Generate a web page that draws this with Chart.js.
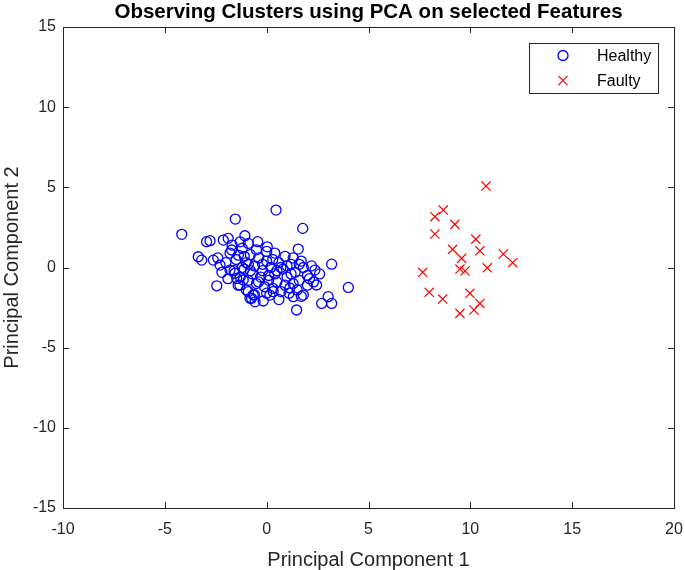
<!DOCTYPE html>
<html>
<head>
<meta charset="utf-8">
<script src="https://cdn.jsdelivr.net/npm/chart.js@4.4.0/dist/chart.umd.min.js"></script>
<style>
  body { margin: 0; background: #fff; }
  #wrap { width: 685px; height: 570px; }
</style>
</head>
<body>
<div id="wrap"><canvas id="pcaChart" width="685" height="570"></canvas></div>
<script>
let healthyX = [-4.17, 0.46, -1.54, 1.77, -2.95, -2.78, -2.13, -1.89, -1.07, -0.44, 0.03, 1.55, -3.36, -3.19, -2.62, -2.29, -2.45, 3.19, 4.01, 2.37, 2.45, 1.47, 3.02, 2.70, 3.19, 1.80, -0.17, -0.74,
  -1.80, -1.56, -1.47, -1.31, -1.15, -0.90, -0.82, -1.72, -1.39, 1.14, 1.31, 0.32, 0.16, -0.66, -0.57,
  -1.8, -1.5, -1.2, -1.0, -0.8, -0.6, -0.4, -0.2, 0.0, 0.2, 0.4, 0.6, 0.8, 1.0, 1.2, 1.4, 1.6, 1.8, 2.0,
  -1.6, -1.3, -1.1, -0.9, -0.7, -0.5, -0.3, -0.1, 0.1, 0.3, 0.5, 0.7, 0.9, 1.1, 1.3, 1.5,
  -2.0, -2.2, -1.9, -1.4, -1.0, -0.6, 0.0, 0.6, -1.7, -1.3, -0.9, -0.5, 0.0, 0.4, 0.9, 1.3, 1.7, 2.2, 2.6, 2.0,
  -2.4, -0.2, 0.3, -0.8, 1.0, 2.3, 1.7, -1.1, 0.5,
  -0.9, -0.4, 0.7, 1.2, 1.6, 2.1, -1.2, 0.1];
let healthyY = [2.07, 3.58, 3.02, 2.44, 1.61, 1.67, 1.71, 1.82, 1.98, 1.61, 1.29, 1.15, 0.67, 0.46, 0.46, 0.15, -1.14, 0.21, -1.24, -0.16, -1.09, -2.65, -1.82, -2.24, -2.24, -1.72, -2.09, -1.92,
  -0.16, -0.36, -0.68, -1.10, -0.78, -1.51, -1.92, 1.09, 0.77, -1.28, -1.82, -1.51, -1.72, -1.72, -2.14,
  0.9, 0.5, 1.2, 0.3, 0.8, 0.1, 0.6, -0.2, 0.4, 0.0, -0.4, 0.3, -0.1, -0.6, 0.2, -0.3, -0.8, 0.0, -0.5,
  -0.2, -0.6, -0.1, -0.8, -0.4, -1.0, -0.6, -1.2, -0.8, -1.3, -0.9, -1.5, -1.1, -1.6, -1.0, -1.4,
  0.3, -0.3, -0.7, -1.1, -1.4, -1.7, -1.6, -2.0, 1.4, 1.6, 1.5, 1.1, 1.0, 0.9, 0.7, 0.6, 0.4, 0.1, -0.4, -1.1,
  0.6, 0.2, 0.5, -0.2, 0.1, -0.9, -1.8, 0.7, -0.2,
  0.2, -0.9, 0.0, -0.4, 0.2, -0.7, 0.0, -0.5];
let faultyX = [10.77, 8.67, 8.26, 9.24, 8.26, 10.27, 9.13, 10.47, 9.57, 11.62, 12.08, 7.66, 9.49, 9.74, 10.83, 7.98, 8.64, 9.98, 10.47, 10.18, 9.49];
let faultyY = [5.08, 3.58, 3.17, 2.69, 2.09, 1.77, 1.13, 1.04, 0.57, 0.84, 0.30, -0.30, -0.10, -0.22, -0.02, -1.55, -1.97, -1.61, -2.24, -2.65, -2.86];
let xTicks = [-10, -5, 0, 5, 10, 15, 20];
let yTicks = [-15, -10, -5, 0, 5, 10, 15];
let seriesNames = ["Healthy", "Faulty"];
let chartTitle = "Observing Clusters using PCA on selected Features";

var axisColor = "#262626";
var fontName = "'Liberation Sans', Arial, sans-serif";

function toPoints(xs, ys) {
  var pts = [];
  for (let i = 0; i < xs.length; i++) {
    pts.push({ x: xs[i], y: ys[i] });
  }
  return pts;
}

// box round the plot with inward ticks on all four sides, like matlab
let boxPlugin = {
  id: "boxPlugin",
  afterDatasetsDraw(chart) {
    let ctx = chart.ctx;
    let a = chart.chartArea;
    let xs = chart.scales.x;
    let ys = chart.scales.y;
    ctx.save();
    ctx.strokeStyle = axisColor;
    ctx.lineWidth = 1;
    ctx.strokeRect(Math.round(a.left) + 0.5, Math.round(a.top) + 0.5, Math.round(a.right - a.left), Math.round(a.bottom - a.top));
    ctx.beginPath();
    xTicks.forEach(function (t) {
      let px = Math.round(xs.getPixelForValue(t)) + 0.5;
      ctx.moveTo(px, a.bottom);
      ctx.lineTo(px, a.bottom - 6);
      ctx.moveTo(px, a.top);
      ctx.lineTo(px, a.top + 6);
    });
    yTicks.forEach(function (t) {
      let py = Math.round(ys.getPixelForValue(t)) + 0.5;
      ctx.moveTo(a.left, py);
      ctx.lineTo(a.left + 6, py);
      ctx.moveTo(a.right, py);
      ctx.lineTo(a.right - 6, py);
    });
    ctx.stroke();

    // title is centred over the plot box, not over the whole canvas
    ctx.fillStyle = "#000";
    ctx.font = "bold 20.5px " + fontName;
    ctx.textAlign = "center";
    ctx.textBaseline = "middle";
    ctx.fillText(chartTitle, (a.left + a.right) / 2, 12);
    ctx.restore();
  },
};

let legendBox = {
  id: "legendBox",
  afterDraw(chart) {
    let ctx = chart.ctx;
    let left = 529, top = 43, w = 129, h = 50;
    ctx.save();
    ctx.fillStyle = "#fff";
    ctx.fillRect(left, top, w, h);
    ctx.strokeStyle = axisColor;
    ctx.lineWidth = 1;
    ctx.strokeRect(left + 0.5, top + 0.5, w, h);
    ctx.font = "16px " + fontName;
    ctx.textBaseline = "middle";
    ctx.fillStyle = "#000";
    chart.data.datasets.forEach(function (ds, i) {
      let cy = top + 12.5 + i * 25;
      let cx = left + 34;
      ctx.strokeStyle = ds.borderColor;
      ctx.lineWidth = ds.borderWidth;
      ctx.beginPath();
      if (ds.pointStyle === "circle") {
        ctx.arc(cx, cy, ds.pointRadius, 0, Math.PI * 2);
      } else {
        let d = ds.pointRadius * Math.SQRT1_2;
        ctx.moveTo(cx - d, cy - d);
        ctx.lineTo(cx + d, cy + d);
        ctx.moveTo(cx - d, cy + d);
        ctx.lineTo(cx + d, cy - d);
      }
      ctx.stroke();
      ctx.fillText(ds.label, left + 68, cy + 1);
    });
    ctx.restore();
  },
};

let cfg = {
  type: "scatter",
  data: {
    datasets: [
      {
        label: seriesNames[0],
        data: toPoints(healthyX, healthyY),
        pointStyle: "circle",
        pointRadius: 5,
        borderColor: "#0000ff",
        backgroundColor: "rgba(0,0,0,0)",
        borderWidth: 1.3,
      },
      {
        label: seriesNames[1],
        data: toPoints(faultyX, faultyY),
        pointStyle: "crossRot",
        pointRadius: 6.5,
        borderColor: "#ff0000",
        backgroundColor: "rgba(0,0,0,0)",
        borderWidth: 1.2,
      },
    ],
  },
  options: {
    responsive: false,
    animation: false,
    events: [],
    layout: { padding: { top: 27, right: 11, left: 0, bottom: 0 } },
    plugins: {
      legend: { display: false },
      tooltip: { enabled: false },
      title: { display: false },
    },
    scales: {
      x: {
        type: "linear",
        min: -10,
        max: 20,
        afterBuildTicks(scale) {
          scale.ticks = xTicks.map(function (v) { return { value: v }; });
        },
        afterFit(scale) {
          scale.height = 62;
          scale.paddingLeft = 0;
          scale.paddingRight = 0;
        },
        grid: { display: false, drawTicks: false },
        border: { display: false },
        ticks: {
          color: axisColor,
          padding: 12,
          font: { family: fontName, size: 16 },
        },
        title: {
          display: true,
          text: "Principal Component 1",
          color: axisColor,
          font: { family: fontName, size: 20, lineHeight: 1.0 },
          padding: { top: 0, bottom: 0 },
        },
      },
      y: {
        type: "linear",
        min: -15,
        max: 15,
        afterBuildTicks(scale) {
          scale.ticks = yTicks.map(function (v) { return { value: v }; });
        },
        afterFit(scale) {
          scale.width = 63;
          scale.paddingTop = 0;
          scale.paddingBottom = 0;
        },
        grid: { display: false, drawTicks: false },
        border: { display: false },
        ticks: {
          color: axisColor,
          padding: 7,
          font: { family: fontName, size: 16 },
        },
        title: {
          display: true,
          text: "Principal Component 2",
          color: axisColor,
          font: { family: fontName, size: 20, lineHeight: 1.0 },
          padding: { top: 2, bottom: 0 },
        },
      },
    },
  },
  plugins: [boxPlugin, legendBox],
};

var pcaChart = new Chart(document.getElementById("pcaChart"), cfg);
</script>
</body>
</html>
